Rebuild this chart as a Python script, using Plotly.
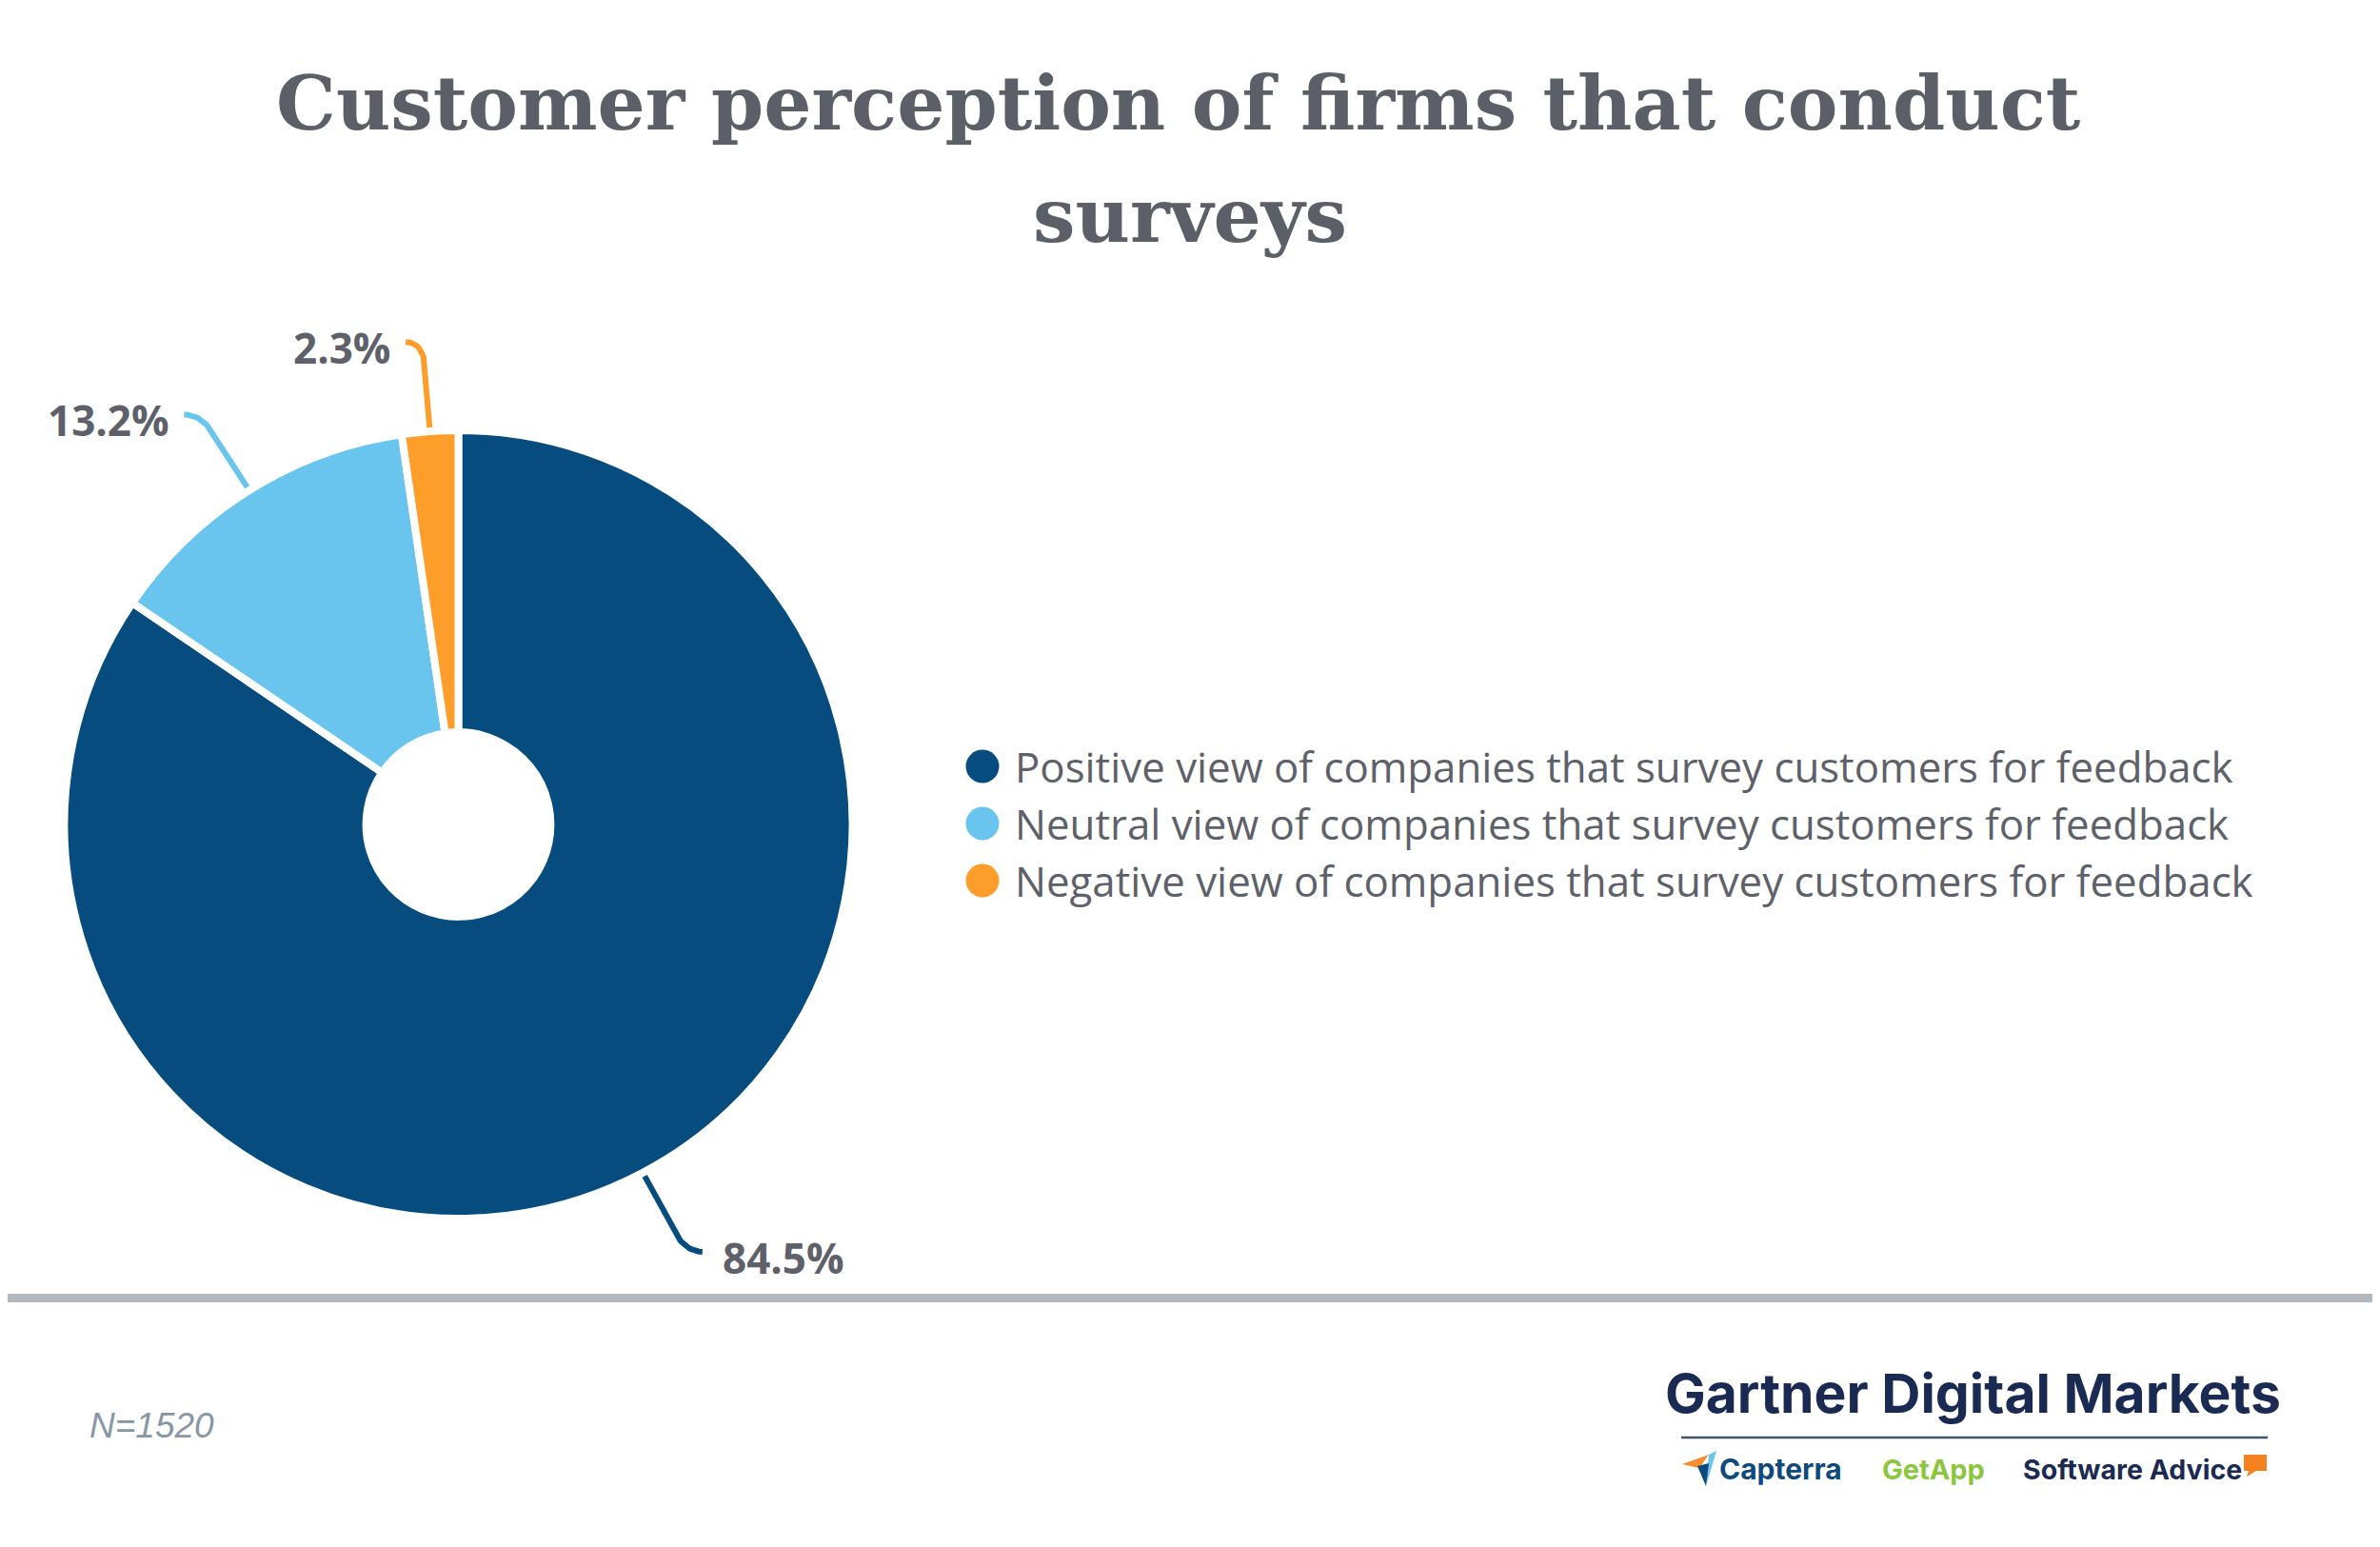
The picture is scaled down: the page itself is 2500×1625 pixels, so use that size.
import math
import plotly.graph_objects as go

# ---------------- data ----------------
categories = [
    "Positive view of companies that survey customers for feedback",
    "Neutral view of companies that survey customers for feedback",
    "Negative view of companies that survey customers for feedback",
]
values = [84.5, 13.2, 2.3]
value_labels = ["84.5%", "13.2%", "2.3%"]
colors = ["#064c7e", "#69c5ed", "#fd9d2a"]

title_lines = ["Customer perception of firms that conduct", "surveys"]
note_text = "N=1520"
brand_text = "Gartner Digital Markets"
sub_brands = ["Capterra", "GetApp", "Software Advice"]
sub_brand_colors = ["#0e4a7b", "#8cc63f", "#1c2a52"]

# ---------------- layout constants (pixels, page coordinates) ----------------
W, H = 2500, 1625
OFF = 8                    # page body margin compensation
CX, CY = 481.5, 866.0      # pie centre (from top-left of page)
R = 414.0                  # pie radius
HOLE = 0.234
TEXT_GRAY = "#5e6169"


def px(x):
    return (x - OFF) / W


def py(y):
    return 1 - (y - OFF) / H


fig = go.Figure()

# ---------------- pie ----------------
fig.add_trace(go.Pie(
    values=values,
    labels=categories,
    hole=HOLE,
    sort=False,
    direction="clockwise",
    rotation=0,
    marker=dict(colors=colors, line=dict(color="white", width=8)),
    textinfo="none",
    showlegend=False,
    hoverinfo="label+percent",
    domain=dict(x=[px(CX - R), px(CX + R)], y=[py(CY + R), py(CY - R)]),
))

# ---------------- leader lines + value labels (pie units: 1 = radius) ----------------
total = sum(values)
cum = 0.0
annotations = []
for v, lab, col in zip(values, value_labels, colors):
    mid = (cum + v / 2) / total * 2 * math.pi
    cum += v
    dx, dy = math.sin(mid), math.cos(mid)
    sign = 1 if dx > 0 else -1
    r0, r1, rc, hook = 1.0, 1.16, 1.227, 0.045
    xs = [r0 * dx]
    ys = [r0 * dy]
    p0 = (r1 * dx, r1 * dy)
    c = (rc * dx, rc * dy)
    p2 = (c[0] + sign * hook, c[1])
    n = 20
    for k in range(n + 1):
        t = k / n
        xs.append((1 - t) ** 2 * p0[0] + 2 * (1 - t) * t * c[0] + t ** 2 * p2[0])
        ys.append((1 - t) ** 2 * p0[1] + 2 * (1 - t) * t * c[1] + t ** 2 * p2[1])
    fig.add_trace(go.Scatter(
        x=xs, y=ys, mode="lines", line=dict(color=col, width=6),
        hoverinfo="skip", showlegend=False, cliponaxis=False,
        xaxis="x", yaxis="y",
    ))
    annotations.append(dict(
        x=p2[0], y=p2[1], xref="x", yref="y", text=lab, showarrow=False,
        xanchor="left" if sign > 0 else "right", yanchor="middle",
        xshift=19 if sign > 0 else -13, yshift=-6,
        font=dict(family="Open Sans", size=44, color=TEXT_GRAY, weight=700),
    ))

# ---------------- custom legend ----------------
idx = list(range(len(categories)))
fig.add_trace(go.Scatter(
    x=[0] * len(categories), y=idx, mode="markers",
    marker=dict(size=35, color=colors, symbol="circle"),
    hoverinfo="skip", showlegend=False, cliponaxis=False,
    xaxis="x2", yaxis="y2",
))
for i, cat in zip(idx, categories):
    annotations.append(dict(
        x=32, y=i, xref="x2", yref="y2", text=cat, showarrow=False,
        xanchor="left", yanchor="middle",
        font=dict(family="Open Sans", size=43.8, color=TEXT_GRAY),
    ))

# ---------------- title ----------------
TITLE_FONT = dict(family="DejaVu Serif", size=79, color="#5c5f67", weight=700)
annotations.append(dict(
    x=px(1238), y=py(109), xref="paper", yref="paper", text=title_lines[0],
    showarrow=False, xanchor="center", yanchor="middle", font=TITLE_FONT,
))
annotations.append(dict(
    x=px(1250), y=py(227), xref="paper", yref="paper", text=title_lines[1],
    showarrow=False, xanchor="center", yanchor="middle", font=TITLE_FONT,
))

# ---------------- footer ----------------
annotations.append(dict(
    x=px(92), y=py(1497), xref="paper", yref="paper", text=note_text,
    showarrow=False, xanchor="left", yanchor="middle",
    font=dict(family="Liberation Sans", size=37, color="#8797a6", style="italic"),
))
annotations.append(dict(
    x=px(1747), y=py(1463), xref="paper", yref="paper", text=brand_text,
    showarrow=False, xanchor="left", yanchor="middle",
    font=dict(family="Inter", size=57, color="#1b2a52", weight=700),
))
sub_x = [1804, 1975, 2123]
sub_sizes = [30, 29, 28.5]
for name, col, x0, fs in zip(sub_brands, sub_brand_colors, sub_x, sub_sizes):
    annotations.append(dict(
        x=px(x0), y=py(1543), xref="paper", yref="paper", text=name,
        showarrow=False, xanchor="left", yanchor="middle",
        font=dict(family="Inter", size=fs, color=col, weight=700),
    ))


def path(points):
    return "M " + " L ".join(f"{px(a):.5f},{py(b):.5f}" for a, b in points) + " Z"


shapes = [
    # separator
    dict(type="line", xref="paper", yref="paper", x0=0, x1=1,
         y0=py(1363.5), y1=py(1363.5), line=dict(color="#b3b8bf", width=9)),
    # brand underline
    dict(type="line", xref="paper", yref="paper", x0=px(1766), x1=px(2382),
         y0=py(1510), y1=py(1510), line=dict(color="#44526f", width=2.5)),
    # capterra icon
    dict(type="path", xref="paper", yref="paper",
         path=path([(1767, 1538), (1795, 1528), (1785, 1542)]),
         fillcolor="#f68d2e", line=dict(width=0)),
    dict(type="path", xref="paper", yref="paper",
         path=path([(1795, 1528), (1803, 1524), (1792, 1561)]),
         fillcolor="#69c5ed", line=dict(width=0)),
    dict(type="path", xref="paper", yref="paper",
         path=path([(1783, 1540), (1795, 1537), (1792, 1561)]),
         fillcolor="#0e4a7b", line=dict(width=0)),
    # software advice bubble
    dict(type="path", xref="paper", yref="paper",
         path=path([(2357, 1528), (2381, 1528), (2381, 1545), (2370, 1545),
                    (2360, 1551), (2362, 1545), (2357, 1545)]),
         fillcolor="#f5821f", line=dict(width=0)),
]

fig.update_layout(
    width=W, height=H,
    margin=dict(l=0, r=0, t=0, b=0),
    paper_bgcolor="white", plot_bgcolor="rgba(0,0,0,0)",
    xaxis=dict(domain=[0, 1], range=[-(CX - OFF) / R, (W - (CX - OFF)) / R],
               visible=False, fixedrange=True),
    yaxis=dict(domain=[0, 1], range=[-(H - (CY - OFF)) / R, (CY - OFF) / R],
               visible=False, fixedrange=True),
    xaxis2=dict(domain=[px(1000), 1], range=[-32, W - (1000 - OFF) - 32],
                visible=False, fixedrange=True, anchor="y2"),
    yaxis2=dict(domain=[py(985), py(745)], range=[3, -1], visible=False,
                fixedrange=True, anchor="x2"),
    annotations=annotations,
    shapes=shapes,
    showlegend=False,
)

fig.write_html("out.html")
